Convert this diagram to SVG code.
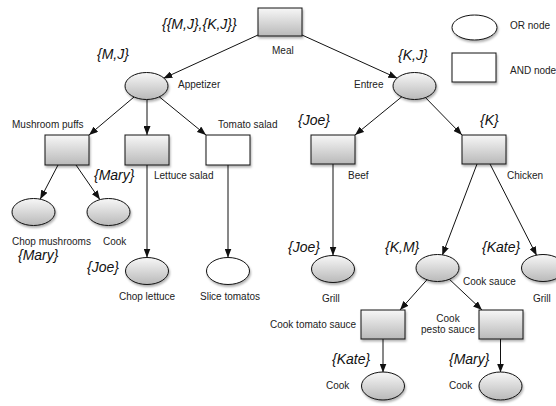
<svg xmlns="http://www.w3.org/2000/svg" width="556" height="406" viewBox="0 0 556 406">
<style>
.lbl{font-family:"Liberation Sans",Arial,sans-serif;font-size:10px;fill:#222}
.set{font-family:"Liberation Sans",Arial,sans-serif;font-size:14px;font-style:italic;fill:#111}
.g{fill:url(#grad);stroke:#111;stroke-width:1;filter:url(#sh)}
.w{fill:#fff;stroke:#111;stroke-width:1;filter:url(#sh)}
.c line{stroke:#111;stroke-width:1;marker-end:url(#ah)}
</style>
<defs>
<linearGradient id="grad" x1="0" y1="0" x2="0" y2="1">
<stop offset="0" stop-color="#f7f7f7"/>
<stop offset="1" stop-color="#b9b9b9"/>
</linearGradient>
<filter id="sh" x="-20%" y="-20%" width="150%" height="160%">
<feDropShadow dx="1" dy="2" stdDeviation="1.2" flood-color="#000" flood-opacity="0.3"/>
</filter>
<marker id="ah" markerWidth="9" markerHeight="7" refX="9" refY="3.5" orient="auto" markerUnits="userSpaceOnUse">
<path d="M0,0 L9,3.5 L0,7 z" fill="#111"/>
</marker>
</defs>
<rect width="556" height="406" fill="#fff"/>

<g id="legend">
<ellipse class="w" cx="474.5" cy="27.5" rx="22.5" ry="12.5"/>
<text class="lbl" x="510" y="29">OR node</text>
<rect class="w" x="452" y="53" width="44" height="29"/>
<text class="lbl" x="510" y="74">AND node</text>
</g>

<g class="c" id="connectors">
<line x1="258" y1="35" x2="163.3" y2="78.4"/>
<line x1="302" y1="35" x2="397.3" y2="78.2"/>
<line x1="134.5" y1="96.6" x2="89" y2="135"/>
<line x1="147" y1="99.5" x2="147" y2="135"/>
<line x1="158.8" y1="96.4" x2="206" y2="135"/>
<line x1="58" y1="165" x2="40.2" y2="199.2"/>
<line x1="76" y1="165" x2="99.9" y2="199.6"/>
<line x1="147" y1="165" x2="147" y2="257.5"/>
<line x1="228" y1="165" x2="228" y2="257.5"/>
<line x1="402" y1="96.6" x2="355" y2="135"/>
<line x1="425.2" y1="97.3" x2="462" y2="135"/>
<line x1="333" y1="164" x2="333" y2="255.5"/>
<line x1="477" y1="164" x2="442.3" y2="255.3"/>
<line x1="490" y1="164" x2="536.7" y2="255.6"/>
<line x1="427.3" y1="279.4" x2="400" y2="310"/>
<line x1="449.1" y1="279" x2="482" y2="310"/>
<line x1="383" y1="339" x2="383" y2="372.5"/>
<line x1="500.5" y1="339" x2="500.5" y2="372.5"/>
</g>

<g id="meal">
<rect class="g" x="258" y="8" width="44" height="28"/>
<text class="lbl" x="272" y="54">Meal</text>
<text class="set" x="162" y="29">{{M,J},{K,J}}</text>
</g>
<g id="appetizer">
<ellipse class="g" cx="146.5" cy="86" rx="21.5" ry="13.5"/>
<text class="lbl" x="178" y="88">Appetizer</text>
<text class="set" x="97" y="59">{M,J}</text>
</g>
<g id="entree">
<ellipse class="g" cx="414.5" cy="86" rx="21.5" ry="13.5"/>
<text class="lbl" x="354" y="88">Entree</text>
<text class="set" x="398" y="60">{K,J}</text>
</g>
<g id="mushroom-puffs">
<rect class="g" x="45" y="135" width="44" height="30"/>
<text class="lbl" x="12" y="128">Mushroom puffs</text>
<text class="set" x="94" y="180">{Mary}</text>
</g>
<g id="lettuce-salad">
<rect class="g" x="125" y="135" width="44" height="30"/>
<text class="lbl" x="154" y="179">Lettuce salad</text>
</g>
<g id="tomato-salad">
<rect class="w" x="206" y="135" width="44" height="30"/>
<text class="lbl" x="218" y="128">Tomato salad</text>
</g>
<g id="chop-mushrooms">
<ellipse class="g" cx="33.5" cy="212" rx="21.5" ry="13.5"/>
<text class="lbl" x="12" y="245">Chop mushrooms</text>
<text class="set" x="18" y="260">{Mary}</text>
</g>
<g id="cook-mushrooms">
<ellipse class="g" cx="108.5" cy="212" rx="21.5" ry="13.5"/>
<text class="lbl" x="103" y="245">Cook</text>
</g>
<g id="chop-lettuce">
<ellipse class="g" cx="147" cy="271" rx="21.5" ry="13.5"/>
<text class="lbl" x="147" y="300" text-anchor="middle">Chop lettuce</text>
<text class="set" x="87" y="272">{Joe}</text>
</g>
<g id="slice-tomatos">
<ellipse class="w" cx="228" cy="271" rx="21.5" ry="13.5"/>
<text class="lbl" x="230" y="300" text-anchor="middle">Slice tomatos</text>
</g>
<g id="beef">
<rect class="g" x="311" y="135" width="44" height="29"/>
<text class="lbl" x="348" y="179">Beef</text>
<text class="set" x="298" y="125">{Joe}</text>
</g>
<g id="chicken">
<rect class="g" x="462" y="135" width="44" height="29"/>
<text class="lbl" x="507" y="179">Chicken</text>
<text class="set" x="480" y="125">{K}</text>
</g>
<g id="grill-beef">
<ellipse class="g" cx="333" cy="269" rx="21.5" ry="13.5"/>
<text class="lbl" x="322" y="302">Grill</text>
<text class="set" x="288" y="252">{Joe}</text>
</g>
<g id="cook-sauce">
<ellipse class="g" cx="437.5" cy="268" rx="21.5" ry="13.5"/>
<text class="lbl" x="463" y="285">Cook sauce</text>
<text class="set" x="385" y="252">{K,M}</text>
</g>
<g id="grill-chicken">
<ellipse class="g" cx="543" cy="268" rx="21.5" ry="13.5"/>
<text class="lbl" x="533" y="302">Grill</text>
<text class="set" x="482" y="252">{Kate}</text>
</g>
<g id="cook-tomato-sauce">
<rect class="g" x="361" y="310" width="44" height="29"/>
<text class="lbl" x="270" y="328">Cook tomato sauce</text>
<text class="set" x="332" y="364">{Kate}</text>
</g>
<g id="cook-pesto-sauce">
<rect class="g" x="479" y="310" width="44" height="29"/>
<text class="lbl" x="448" y="322" text-anchor="middle">Cook</text>
<text class="lbl" x="448" y="333" text-anchor="middle">pesto sauce</text>
<text class="set" x="449" y="364">{Mary}</text>
</g>
<g id="cook-kate">
<ellipse class="g" cx="383" cy="386" rx="21.5" ry="14"/>
<text class="lbl" x="326" y="389">Cook</text>
</g>
<g id="cook-mary">
<ellipse class="g" cx="500.5" cy="386" rx="21.5" ry="14"/>
<text class="lbl" x="449" y="389">Cook</text>
</g>
</svg>
